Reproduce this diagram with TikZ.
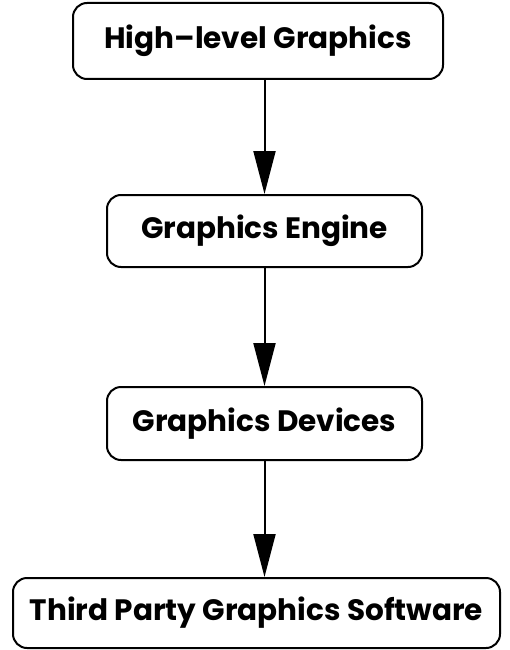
\documentclass[tikz,border=0pt]{standalone}
\usepackage{fontspec}
\newfontfamily\boxfont{Poppins}
\usetikzlibrary{arrows.meta}

\begin{document}
\begin{tikzpicture}[
  x=1pt, y=-1pt,
  >={Triangle[length=43pt, width=22pt]},
  every node/.style={font=\boxfont\bfseries\fontsize{29.5}{34}\selectfont},
  stage/.style={draw, line width=2pt, rounded corners=14pt,
                inner sep=0pt, align=center},
  link/.style={->, line width=2pt},
]
  \useasboundingbox (0,0) rectangle (509,650);

  % Stages, top to bottom
  \node[stage, minimum width=370pt, minimum height=76pt] (hilev) at (258, 41)
    {High–level Graphics};
  \node[stage, minimum width=315pt, minimum height=72pt] (engine) at (264.5, 231)
    {Graphics Engine};
  \node[stage, minimum width=315pt, minimum height=73pt] (devices) at (264.5, 423.5)
    {Graphics Devices};
  \node[stage, minimum width=487pt, minimum height=70pt] (thirdparty) at (256.5, 613)
    {Third Party Graphics Software};

  % Arrows down the chain
  \draw[link] (engine |- hilev.south) -- (engine.north);
  \draw[link] (engine.south) -- (devices.north);
  \draw[link] (devices.south) -- (devices.south |- thirdparty.north);
\end{tikzpicture}
\end{document}
